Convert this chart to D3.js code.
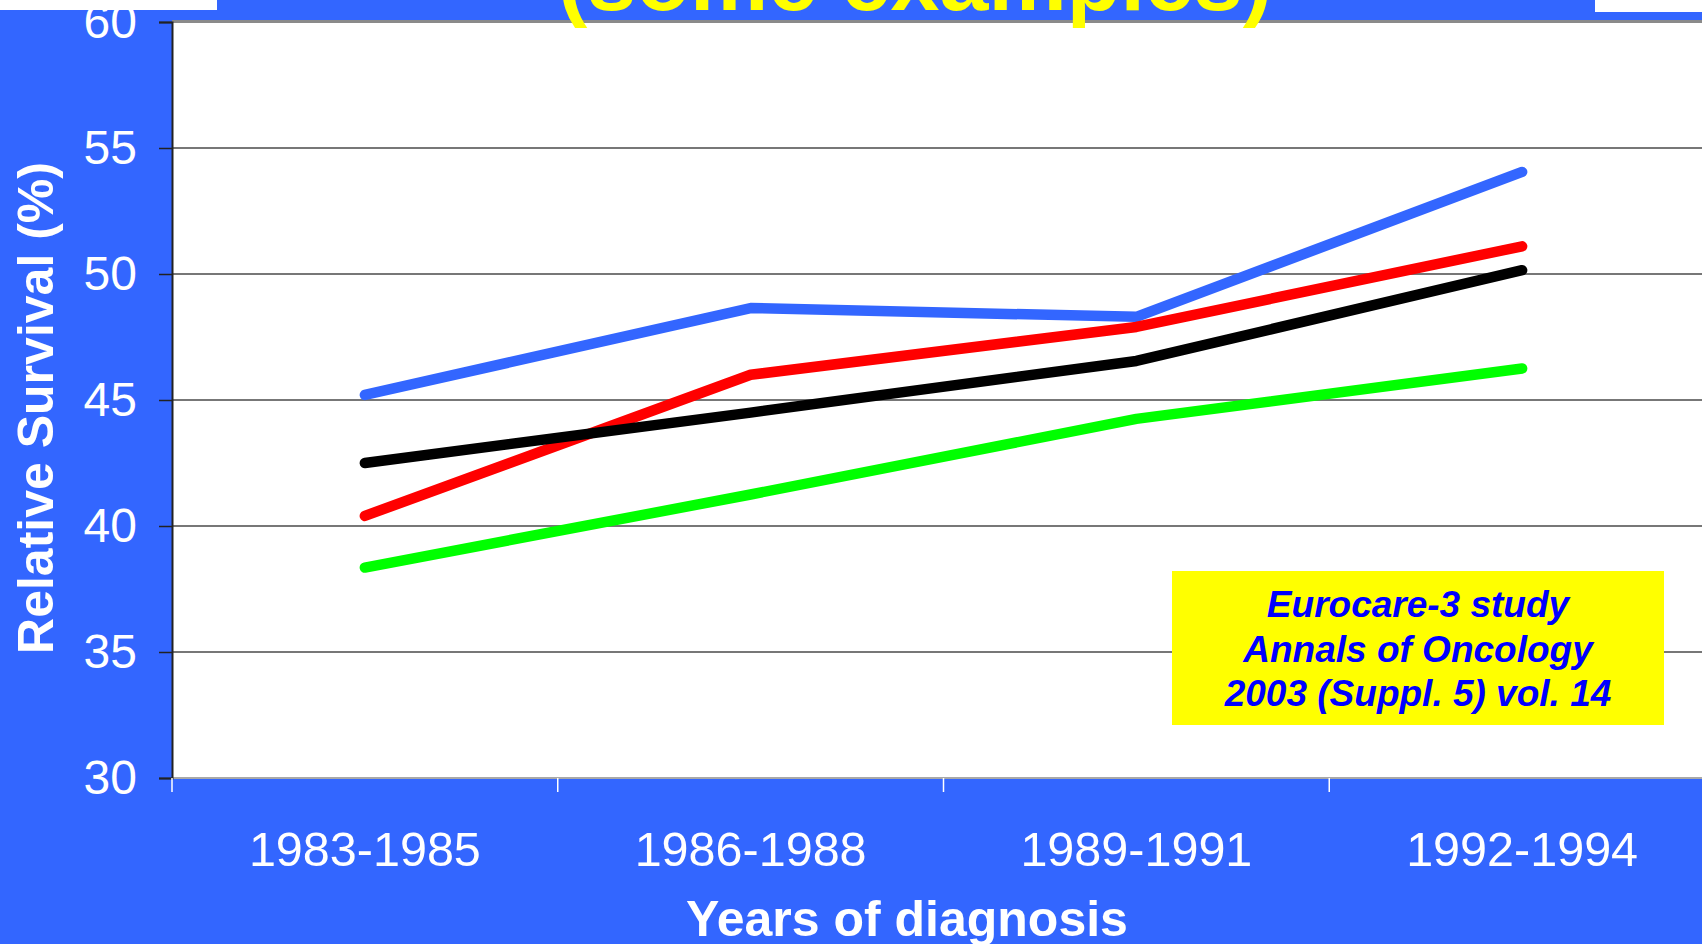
<!DOCTYPE html>
<html>
<head>
<meta charset="utf-8">
<script src="https://cdn.jsdelivr.net/npm/d3@7"></script>
<style>
    body { margin: 0; background: #3366ff; overflow: hidden; }
    text { font-family: "Liberation Sans", Arial, sans-serif; }
</style>
</head>
<body>
<svg id="chart" width="1702" height="944"></svg>
<script>
// periods of diagnosis
const periods = ["1983-1985", "1986-1988", "1989-1991", "1992-1994"];
// relative survival (%), one array per line
const blueValues = [45.2, 48.65, 48.3, 54.05];
const redValues = [40.4, 46.0, 47.9, 51.1];
const blackValues = [42.5, 44.5, 46.55, 50.15];
const greenValues = [38.35, 41.25, 44.25, 46.25];
const yTicks = [30, 35, 40, 45, 50, 55, 60];
const noteLines = ["Eurocare-3 study", "Annals of Oncology", "2003 (Suppl. 5) vol. 14"];

const series = [
    { color: "#3366ff", values: blueValues },
    { color: "#ff0000", values: redValues },
    { color: "#000000", values: blackValues },
    { color: "#00ff00", values: greenValues },
];

const svg = d3.select("#chart"),
    width = +svg.attr("width"),
    height = +svg.attr("height");

const plot = { left: 172, top: 22, right: 1715, bottom: 778 };

const x = d3.scaleBand()
    .domain(periods)
    .range([plot.left, plot.right]);

const y = d3.scaleLinear()
    .domain([30, 60])
    .range([plot.bottom, plot.top]);

// background
svg.append("rect")
    .attr("width", width)
    .attr("height", height)
    .attr("fill", "#3366ff");
// white slivers at the top corners
svg.append("rect").attr("x", 0).attr("y", 0).attr("width", 217).attr("height", 10).attr("fill", "#fff");
svg.append("rect").attr("x", 1595).attr("y", 0).attr("width", 107).attr("height", 12).attr("fill", "#fff");

// plot area
svg.append("rect")
    .attr("x", plot.left)
    .attr("y", plot.top)
    .attr("width", plot.right - plot.left)
    .attr("height", plot.bottom - plot.top)
    .attr("fill", "#fff");

// gridlines
svg.append("g")
    .selectAll("line")
    .data(yTicks.slice(1, -1))
    .enter()
    .append("line")
    .attr("x1", plot.left)
    .attr("x2", plot.right)
    .attr("y1", d => y(d))
    .attr("y2", d => y(d))
    .attr("stroke", "#4a4a4a")
    .attr("stroke-width", 1.5);

// top and bottom border
svg.append("line")
    .attr("x1", plot.left).attr("x2", plot.right)
    .attr("y1", plot.top - 0.5).attr("y2", plot.top - 0.5)
    .attr("stroke", "#8a8a8a").attr("stroke-width", 3);
svg.append("line")
    .attr("x1", plot.left).attr("x2", plot.right)
    .attr("y1", plot.bottom).attr("y2", plot.bottom)
    .attr("stroke", "#a8a8a8").attr("stroke-width", 2);

// y axis
const yAxis = svg.append("g")
    .attr("transform", `translate(${plot.left},0)`)
    .call(d3.axisLeft(y).tickValues(yTicks).tickSize(13).tickPadding(22));
yAxis.select(".domain").attr("stroke", "#222").attr("stroke-width", 2);
yAxis.selectAll(".tick line").attr("stroke", "#222").attr("stroke-width", 1.5);
yAxis.selectAll(".tick text")
    .attr("fill", "#fff")
    .style("font-size", "48px")
    .style("font-family", "'Liberation Sans', Arial, sans-serif");

// x axis ticks at the band edges
svg.append("g")
    .selectAll("line")
    .data(periods)
    .enter()
    .append("line")
    .attr("x1", d => x(d))
    .attr("x2", d => x(d))
    .attr("y1", plot.bottom)
    .attr("y2", plot.bottom + 14)
    .attr("stroke", "#fff")
    .attr("stroke-width", 1.5);

svg.append("g")
    .selectAll("text")
    .data(periods)
    .enter()
    .append("text")
    .attr("x", d => x(d) + x.bandwidth() / 2)
    .attr("y", 866)
    .attr("text-anchor", "middle")
    .attr("fill", "#fff")
    .style("font-size", "48.5px")
    .text(d => d);

// axis titles
svg.append("text")
    .attr("x", 907)
    .attr("y", 936)
    .attr("text-anchor", "middle")
    .attr("fill", "#fff")
    .style("font-size", "50px")
    .style("font-weight", "bold")
    .text("Years of diagnosis");

svg.append("text")
    .attr("transform", "translate(53,408) rotate(-90)")
    .attr("text-anchor", "middle")
    .attr("fill", "#fff")
    .style("font-size", "50px")
    .style("font-weight", "bold")
    .text("Relative Survival (%)");

// the lines
const line = d3.line()
    .x((d, i) => x(periods[i]) + x.bandwidth() / 2)
    .y(d => y(d));

svg.append("g")
    .selectAll("path")
    .data(series)
    .enter()
    .append("path")
    .attr("d", d => line(d.values))
    .attr("fill", "none")
    .attr("stroke", d => d.color)
    .attr("stroke-width", 10.5)
    .attr("stroke-linecap", "round")
    .attr("stroke-linejoin", "round");

// source note
const note = svg.append("g");
note.append("rect")
    .attr("x", 1172)
    .attr("y", 571)
    .attr("width", 492)
    .attr("height", 154)
    .attr("fill", "#ffff00");
note.selectAll("text")
    .data(noteLines)
    .enter()
    .append("text")
    .attr("x", 1418)
    .attr("y", (d, i) => 617 + i * 44.7)
    .attr("text-anchor", "middle")
    .attr("fill", "#0000ff")
    .style("font-size", "37px")
    .style("font-weight", "bold")
    .style("font-style", "italic")
    .text(d => d);

// title, mostly cut off by the top edge
svg.append("text")
    .attr("x", 915)
    .attr("y", 10)
    .attr("text-anchor", "middle")
    .attr("fill", "#ffff00")
    .style("font-size", "88px")
    .style("font-weight", "bold")
    .text("(some examples)");
</script>
</body>
</html>
